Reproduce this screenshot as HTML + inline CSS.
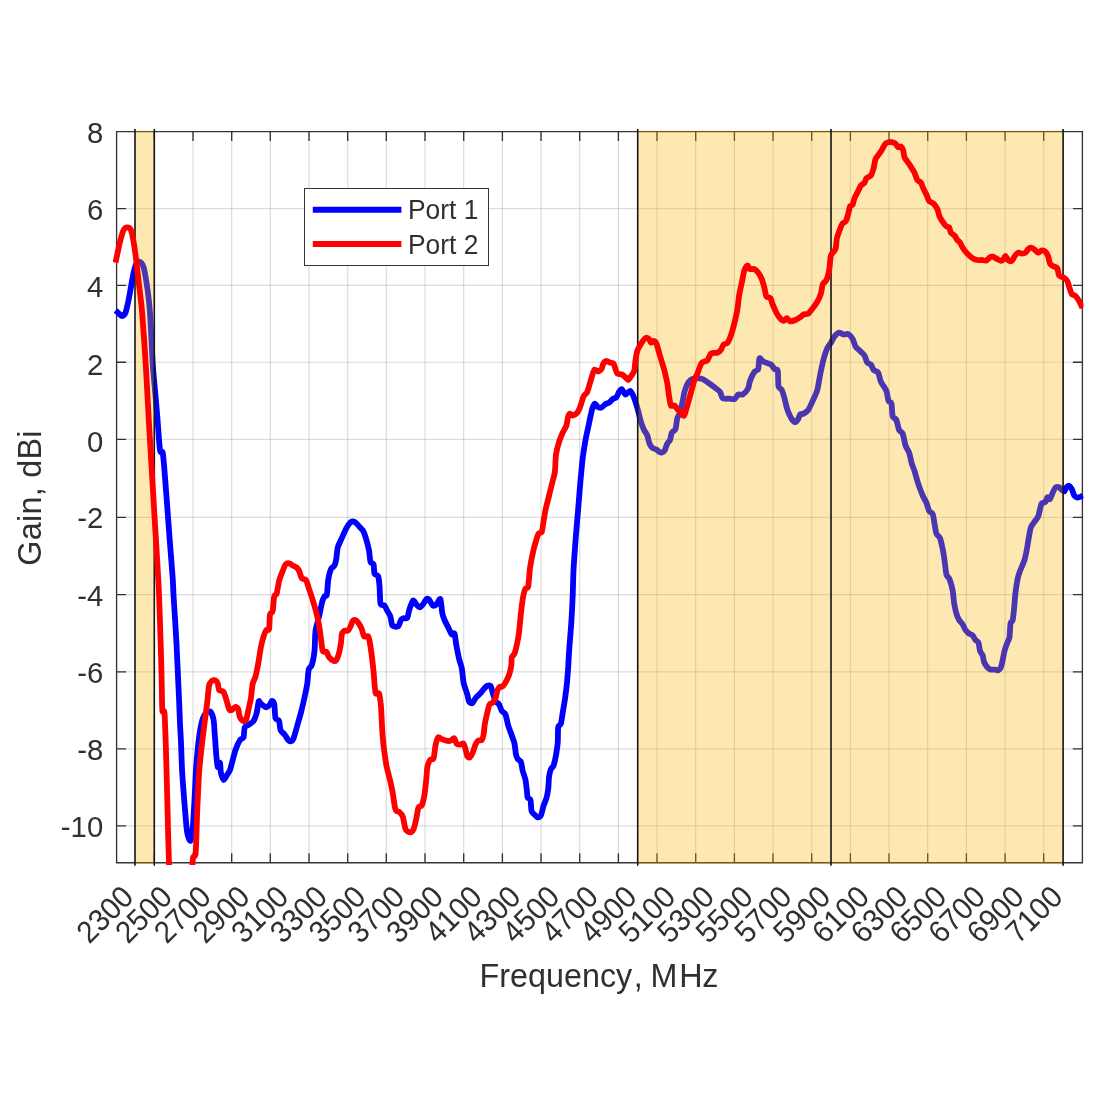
<!DOCTYPE html>
<html><head><meta charset="utf-8"><title>Gain</title>
<style>html,body{margin:0;padding:0;background:#fff;}svg{display:block;}text{font-family:"Liberation Sans",sans-serif;fill:#303030;}</style></head><body>
<svg width="1100" height="1100" viewBox="0 0 1100 1100">
<rect width="1100" height="1100" fill="#fff"/>
<path d="M154.3,131.6 V862.7 M193.0,131.6 V862.7 M231.7,131.6 V862.7 M270.3,131.6 V862.7 M309.0,131.6 V862.7 M347.7,131.6 V862.7 M386.3,131.6 V862.7 M425.0,131.6 V862.7 M463.7,131.6 V862.7 M502.4,131.6 V862.7 M541.0,131.6 V862.7 M579.7,131.6 V862.7 M618.4,131.6 V862.7 M657.0,131.6 V862.7 M695.7,131.6 V862.7 M734.4,131.6 V862.7 M773.0,131.6 V862.7 M811.7,131.6 V862.7 M850.4,131.6 V862.7 M889.0,131.6 V862.7 M927.7,131.6 V862.7 M966.4,131.6 V862.7 M1005.1,131.6 V862.7 M1043.7,131.6 V862.7" stroke="#262626" stroke-opacity="0.16" stroke-width="1.15" fill="none"/>
<path d="M116.6,208.6 H1082.4 M116.6,285.3 H1082.4 M116.6,362.2 H1082.4 M116.6,439.3 H1082.4 M116.6,517.4 H1082.4 M116.6,594.6 H1082.4 M116.6,671.8 H1082.4 M116.6,748.9 H1082.4 M116.6,825.8 H1082.4" stroke="#262626" stroke-opacity="0.16" stroke-width="1.15" fill="none"/>
<path d="M116.6,131.6 H1082.4 V862.7 H116.6 Z M154.3,862.7 v-9.5 M154.3,131.6 v9.5 M193.0,862.7 v-9.5 M193.0,131.6 v9.5 M231.7,862.7 v-9.5 M231.7,131.6 v9.5 M270.3,862.7 v-9.5 M270.3,131.6 v9.5 M309.0,862.7 v-9.5 M309.0,131.6 v9.5 M347.7,862.7 v-9.5 M347.7,131.6 v9.5 M386.3,862.7 v-9.5 M386.3,131.6 v9.5 M425.0,862.7 v-9.5 M425.0,131.6 v9.5 M463.7,862.7 v-9.5 M463.7,131.6 v9.5 M502.4,862.7 v-9.5 M502.4,131.6 v9.5 M541.0,862.7 v-9.5 M541.0,131.6 v9.5 M579.7,862.7 v-9.5 M579.7,131.6 v9.5 M618.4,862.7 v-9.5 M618.4,131.6 v9.5 M657.0,862.7 v-9.5 M657.0,131.6 v9.5 M695.7,862.7 v-9.5 M695.7,131.6 v9.5 M734.4,862.7 v-9.5 M734.4,131.6 v9.5 M773.0,862.7 v-9.5 M773.0,131.6 v9.5 M811.7,862.7 v-9.5 M811.7,131.6 v9.5 M850.4,862.7 v-9.5 M850.4,131.6 v9.5 M889.0,862.7 v-9.5 M889.0,131.6 v9.5 M927.7,862.7 v-9.5 M927.7,131.6 v9.5 M966.4,862.7 v-9.5 M966.4,131.6 v9.5 M1005.1,862.7 v-9.5 M1005.1,131.6 v9.5 M1043.7,862.7 v-9.5 M1043.7,131.6 v9.5 M116.6,208.6 h9.5 M1082.4,208.6 h-9.5 M116.6,285.3 h9.5 M1082.4,285.3 h-9.5 M116.6,362.2 h9.5 M1082.4,362.2 h-9.5 M116.6,439.3 h9.5 M1082.4,439.3 h-9.5 M116.6,517.4 h9.5 M1082.4,517.4 h-9.5 M116.6,594.6 h9.5 M1082.4,594.6 h-9.5 M116.6,671.8 h9.5 M1082.4,671.8 h-9.5 M116.6,748.9 h9.5 M1082.4,748.9 h-9.5 M116.6,825.8 h9.5 M1082.4,825.8 h-9.5" stroke="#343434" stroke-width="1.35" fill="none"/>
<defs><clipPath id="c"><rect x="112.6" y="128.6" width="970.8000000000001" height="736.3000000000001"/></clipPath></defs>
<path clip-path="url(#c)" d="M115.5,310.5C116.0,310.9 118.2,312.9 119.0,313.6C119.8,314.3 121.0,316.1 121.8,316.0C122.6,315.9 124.7,314.5 125.5,312.7C126.3,310.9 127.5,305.1 128.2,301.8C128.9,298.5 130.2,291.1 130.9,287.3C131.6,283.5 132.9,275.8 133.6,272.7C134.3,269.6 135.6,265.0 136.4,263.6C137.2,262.2 139.1,261.4 140.0,261.8C140.9,262.2 142.6,264.5 143.3,266.4C144.0,268.3 144.9,272.7 145.5,276.4C146.1,280.1 147.6,289.8 148.2,294.5C148.8,299.2 149.6,307.3 150.0,312.7C150.4,318.1 150.9,329.8 151.3,336.4C151.7,343.0 152.3,357.3 152.7,363.6C153.1,369.9 153.9,378.1 154.5,385.0C155.1,391.9 156.6,407.9 157.3,416.4C158.0,424.8 159.3,445.3 160.0,450.0C160.7,454.7 162.1,450.0 162.7,452.7C163.3,455.4 163.9,463.8 164.5,470.9C165.1,478.0 166.6,497.8 167.3,507.3C168.0,516.8 169.3,534.4 170.0,543.6C170.7,552.8 172.2,571.3 172.7,578.2C173.2,585.1 173.1,588.1 173.6,596.4C174.1,604.7 175.8,630.0 176.4,641.8C177.0,653.6 178.0,676.7 178.5,687.3C179.0,697.9 179.7,716.7 180.0,723.6C180.3,730.5 180.6,733.6 180.9,740.0C181.2,746.4 181.7,764.4 182.2,772.7C182.7,781.0 183.9,796.0 184.5,803.6C185.1,811.2 186.3,826.3 186.9,830.9C187.5,835.5 188.6,837.9 189.1,839.1C189.6,840.3 190.4,841.8 190.9,840.0C191.4,838.2 192.5,831.5 193.0,825.0C193.5,818.5 194.6,798.0 195.0,790.0C195.4,782.0 195.9,769.8 196.4,763.6C196.9,757.4 198.0,746.6 198.5,742.0C199.0,737.4 199.9,731.1 200.5,728.0C201.1,724.9 202.2,720.0 203.0,718.0C203.8,716.0 205.5,713.3 206.5,712.5C207.5,711.7 209.6,710.8 210.5,711.8C211.4,712.8 213.0,716.8 213.6,720.0C214.2,723.2 214.5,731.7 214.9,736.4C215.3,741.1 216.0,752.4 216.4,756.4C216.8,760.4 217.3,766.5 217.8,767.3C218.3,768.1 219.6,762.0 220.0,762.7C220.4,763.4 220.4,770.5 220.9,772.7C221.4,774.9 222.8,779.8 223.6,780.0C224.4,780.2 226.5,775.8 227.3,774.5C228.1,773.2 229.3,771.9 230.0,770.0C230.7,768.1 232.0,762.6 232.7,760.0C233.4,757.4 234.6,752.6 235.5,750.0C236.4,747.4 238.9,741.7 240.0,740.0C241.1,738.3 243.0,739.0 243.6,737.3C244.2,735.6 244.0,729.0 244.7,727.3C245.4,725.6 247.9,725.3 249.1,724.5C250.3,723.7 252.6,722.4 253.6,720.9C254.6,719.4 256.0,715.2 256.7,712.7C257.4,710.2 258.2,702.5 258.7,701.3C259.2,700.1 259.9,702.8 260.9,703.6C261.9,704.4 265.2,707.2 266.4,707.3C267.6,707.4 269.3,705.3 270.0,704.5C270.7,703.7 271.3,701.0 271.8,700.9C272.3,700.8 273.7,701.4 274.2,703.6C274.7,705.8 274.9,716.0 275.5,718.2C276.1,720.4 278.5,719.4 279.1,720.9C279.8,722.4 279.8,728.2 280.5,730.0C281.2,731.8 283.5,733.2 284.5,734.5C285.5,735.8 287.4,739.1 288.2,740.0C289.0,740.9 290.2,741.5 290.9,741.3C291.6,741.1 292.8,740.3 293.6,738.2C294.4,736.1 296.4,728.8 297.3,725.5C298.2,722.2 300.0,716.3 300.9,712.7C301.8,709.1 303.7,701.3 304.5,697.5C305.3,693.7 306.8,687.1 307.3,683.5C307.8,679.9 308.1,671.9 308.7,669.5C309.3,667.1 311.0,667.4 311.8,665.0C312.6,662.6 314.0,655.3 314.5,650.9C315.0,646.5 314.9,635.4 315.5,630.9C316.1,626.4 318.2,620.2 319.1,616.4C320.0,612.6 321.5,604.4 322.2,601.8C322.9,599.2 323.9,597.3 324.5,596.4C325.1,595.5 326.4,596.6 326.9,594.5C327.4,592.4 327.7,583.3 328.2,580.0C328.7,576.7 330.1,571.0 330.9,569.1C331.7,567.2 333.8,566.9 334.5,565.5C335.2,564.1 336.0,560.6 336.4,558.2C336.8,555.8 337.1,549.9 337.8,547.3C338.5,544.7 340.7,540.7 341.8,538.2C342.9,535.7 345.3,530.2 346.4,528.2C347.5,526.2 349.1,523.6 350.0,522.7C350.9,521.8 352.3,521.4 353.1,521.5C353.9,521.6 355.5,522.5 356.4,523.3C357.3,524.1 359.1,526.2 360.0,527.3C360.9,528.4 362.7,529.9 363.6,531.8C364.5,533.7 366.2,539.3 366.9,541.8C367.6,544.3 368.6,548.3 369.1,550.9C369.6,553.5 369.9,560.0 370.5,561.8C371.1,563.6 373.1,563.0 373.6,564.5C374.1,566.0 373.9,572.1 374.5,573.6C375.1,575.1 377.5,574.6 378.2,576.4C378.9,578.2 379.3,583.8 379.6,587.3C379.9,590.8 379.9,601.2 380.5,603.6C381.1,606.0 383.6,604.6 384.5,605.5C385.4,606.4 386.5,609.5 387.3,610.9C388.1,612.3 389.7,614.5 390.4,616.4C391.1,618.3 391.4,624.2 392.4,625.5C393.4,626.8 397.1,627.1 398.2,626.4C399.3,625.7 400.2,621.1 400.9,620.0C401.6,618.9 402.8,618.5 403.6,618.2C404.4,617.9 406.5,619.0 407.3,617.8C408.1,616.6 408.7,611.3 409.5,609.1C410.3,606.9 412.2,601.1 413.1,600.5C414.0,599.9 415.5,603.6 416.4,604.5C417.3,605.4 419.1,607.4 420.0,607.3C420.9,607.2 422.8,604.7 423.6,603.6C424.4,602.5 425.7,599.6 426.4,599.1C427.1,598.6 428.3,598.8 429.1,599.6C429.9,600.4 431.8,604.9 432.7,605.5C433.6,606.1 435.4,605.3 436.4,604.5C437.4,603.7 439.6,598.0 440.4,599.1C441.2,600.2 441.7,610.0 442.2,612.7C442.7,615.4 443.7,618.1 444.5,620.0C445.3,621.9 447.3,625.4 448.2,627.3C449.1,629.2 451.0,633.7 451.8,634.5C452.6,635.3 453.9,632.2 454.5,633.6C455.1,635.0 455.8,642.2 456.4,645.5C457.0,648.8 458.4,656.0 459.1,659.0C459.8,662.0 461.2,665.1 461.8,668.2C462.4,671.3 462.9,679.3 463.6,682.7C464.3,686.1 466.6,692.0 467.3,694.5C468.0,697.0 468.4,700.7 469.1,701.8C469.8,702.9 471.6,703.6 472.5,703.0C473.4,702.4 474.9,698.8 476.0,697.5C477.1,696.2 479.8,693.9 480.9,692.7C482.0,691.5 483.7,689.1 484.5,688.2C485.3,687.3 486.5,686.1 487.3,685.8C488.1,685.5 489.8,684.9 490.5,685.8C491.2,686.7 492.1,690.7 492.7,692.7C493.3,694.7 494.7,699.4 495.5,700.9C496.3,702.4 498.3,703.2 499.1,704.5C499.9,705.8 501.0,709.6 501.8,710.9C502.6,712.2 504.7,712.6 505.5,714.5C506.3,716.4 507.4,722.8 508.2,725.5C509.0,728.2 511.0,733.1 511.8,735.5C512.6,737.9 514.0,741.1 514.5,743.6C515.0,746.1 515.6,752.5 516.0,754.5C516.4,756.5 517.2,758.2 517.8,759.1C518.4,760.0 520.3,760.3 520.9,761.8C521.5,763.3 522.1,768.5 522.7,770.9C523.3,773.3 525.0,777.4 525.5,780.0C526.0,782.6 526.6,788.7 526.9,790.9C527.2,793.1 527.1,796.1 527.6,797.3C528.1,798.5 530.0,798.2 530.5,800.0C531.0,801.8 531.0,809.0 531.5,810.9C532.0,812.8 533.7,813.7 534.5,814.5C535.3,815.3 536.5,817.2 537.3,817.3C538.1,817.4 540.1,817.0 540.9,815.5C541.7,814.0 542.9,807.7 543.6,805.5C544.3,803.3 545.8,800.3 546.4,798.2C547.0,796.1 547.8,791.9 548.2,789.1C548.6,786.3 548.7,779.0 549.1,776.4C549.5,773.8 550.3,770.5 550.9,769.1C551.5,767.7 552.9,767.6 553.6,765.5C554.3,763.4 555.9,755.8 556.4,752.7C556.9,749.6 557.6,745.1 557.8,741.8C558.0,738.5 557.8,729.7 558.2,727.3C558.6,724.9 560.3,725.5 560.9,723.6C561.5,721.7 562.2,716.0 562.7,712.7C563.2,709.4 564.6,702.0 565.1,698.2C565.6,694.4 566.5,687.6 566.9,683.6C567.3,679.6 567.9,671.5 568.2,667.3C568.5,663.1 568.7,656.8 569.1,651.0C569.5,645.2 570.8,629.9 571.3,622.7C571.8,615.5 572.4,602.6 572.7,595.5C573.0,588.4 573.2,575.3 573.6,568.2C574.0,561.1 575.0,548.0 575.5,540.9C576.0,533.8 577.2,520.7 577.8,513.6C578.4,506.5 579.5,492.1 580.0,486.4C580.5,480.7 581.1,473.7 581.5,470.0C581.9,466.3 582.2,462.1 582.7,458.2C583.2,454.3 584.8,444.0 585.5,440.0C586.2,436.0 587.5,430.6 588.2,427.3C588.9,424.0 590.3,417.1 590.9,414.5C591.5,411.9 592.2,408.7 592.7,407.3C593.2,405.9 594.2,403.6 594.9,403.6C595.6,403.6 597.3,406.8 598.2,407.3C599.1,407.8 600.9,407.7 601.8,407.3C602.7,406.9 604.6,404.6 605.5,404.0C606.4,403.4 608.2,403.3 609.1,402.7C610.0,402.1 611.8,399.8 612.7,399.1C613.6,398.4 615.6,398.2 616.4,397.3C617.2,396.4 618.4,392.9 619.1,391.8C619.8,390.7 621.0,388.7 621.8,389.1C622.6,389.5 624.4,394.3 625.5,394.5C626.6,394.7 629.1,390.9 630.0,390.9C630.9,390.9 632.0,393.1 632.7,394.5C633.4,395.9 634.8,399.7 635.5,401.8C636.2,403.9 637.5,408.3 638.2,410.9C638.9,413.5 640.2,419.4 640.9,421.8C641.6,424.2 642.8,427.3 643.6,429.1C644.4,430.9 646.5,433.6 647.3,435.5C648.1,437.4 648.8,441.9 649.5,443.6C650.2,445.3 651.8,447.4 652.7,448.2C653.6,449.0 655.6,449.0 656.4,449.5C657.2,450.0 658.4,451.4 659.1,451.8C659.8,452.2 661.1,452.8 661.8,452.7C662.5,452.6 663.8,452.1 664.5,450.9C665.2,449.7 666.6,445.0 667.3,443.6C668.0,442.2 669.4,441.4 670.0,440.0C670.6,438.6 671.1,434.1 671.8,432.7C672.5,431.3 674.8,431.0 675.5,429.1C676.2,427.2 676.7,420.3 677.3,418.2C677.9,416.1 679.3,414.9 680.0,412.7C680.7,410.5 682.1,403.7 682.7,401.0C683.3,398.3 683.8,394.2 684.5,391.8C685.2,389.4 687.1,384.4 688.2,382.7C689.3,381.0 690.9,379.2 692.7,378.7C694.5,378.2 699.8,378.2 701.8,378.7C703.8,379.2 706.5,381.6 708.2,382.7C709.9,383.8 713.0,386.1 714.5,387.3C716.0,388.5 718.9,390.4 720.0,391.8C721.1,393.2 721.5,397.3 722.7,398.2C723.9,399.1 727.6,398.6 729.1,398.7C730.6,398.8 733.3,399.6 734.5,399.1C735.7,398.6 737.1,395.1 738.2,394.5C739.3,393.9 741.4,395.3 742.7,394.5C744.0,393.7 747.3,390.0 748.2,388.2C749.1,386.4 749.2,383.0 750.0,380.9C750.8,378.8 753.4,373.3 754.5,371.8C755.6,370.3 757.6,370.9 758.2,369.1C758.9,367.3 758.8,359.1 759.5,358.2C760.2,357.3 762.1,361.0 763.6,361.8C765.1,362.6 769.5,363.6 770.9,364.5C772.3,365.4 773.6,368.3 774.5,369.1C775.4,369.9 777.3,368.7 777.8,370.9C778.3,373.1 778.0,383.9 778.5,386.4C779.0,388.9 781.0,388.5 781.8,390.0C782.6,391.5 783.9,396.1 784.5,398.2C785.1,400.3 785.9,404.6 786.4,406.4C786.9,408.2 787.5,410.1 788.2,411.8C788.9,413.5 790.9,417.7 791.8,419.1C792.7,420.5 794.7,422.2 795.5,422.2C796.3,422.2 797.6,420.1 798.2,419.1C798.8,418.1 799.3,415.2 800.0,414.5C800.7,413.8 802.5,414.2 803.6,413.6C804.7,413.0 807.0,411.7 808.2,410.0C809.4,408.3 811.5,403.5 812.7,400.9C813.9,398.3 816.4,393.3 817.3,390.0C818.2,386.7 819.2,379.5 820.0,375.5C820.8,371.5 822.7,362.6 823.6,359.1C824.5,355.6 826.4,350.3 827.3,348.2C828.2,346.1 830.0,344.2 830.9,342.7C831.8,341.2 833.4,337.7 834.5,336.4C835.6,335.1 837.9,332.9 839.1,332.7C840.3,332.5 842.4,334.3 843.6,334.5C844.8,334.7 847.0,333.4 848.2,334.0C849.4,334.6 851.8,337.5 852.7,339.1C853.6,340.7 854.6,344.9 855.5,346.4C856.4,347.9 858.8,349.7 860.0,350.9C861.2,352.1 863.6,354.0 864.5,355.5C865.4,357.0 866.5,361.5 867.3,362.7C868.1,363.9 870.1,363.6 870.9,364.5C871.7,365.4 872.7,368.9 873.6,370.0C874.5,371.1 877.3,371.2 878.2,372.7C879.1,374.2 879.8,379.4 880.9,381.8C882.0,384.2 885.4,388.4 886.4,390.9C887.4,393.4 887.8,399.2 888.5,400.9C889.2,402.6 891.0,401.6 891.5,403.6C892.0,405.6 892.1,414.3 892.7,416.4C893.3,418.5 895.6,418.2 896.4,420.0C897.2,421.8 898.3,428.2 899.1,430.0C899.9,431.8 901.9,431.6 902.7,433.6C903.5,435.6 904.7,443.0 905.5,445.5C906.3,448.0 908.3,450.3 909.1,452.7C909.9,455.1 911.1,461.2 911.8,463.6C912.5,466.0 913.7,468.3 914.5,470.9C915.3,473.5 917.1,480.4 918.2,483.6C919.3,486.8 921.6,493.0 922.7,495.5C923.8,498.0 925.6,500.7 926.4,502.7C927.2,504.7 928.3,509.4 929.1,510.9C929.9,512.4 932.0,512.3 932.7,514.0C933.4,515.7 934.0,521.1 934.5,523.6C935.0,526.1 935.7,531.7 936.4,533.6C937.1,535.5 939.2,536.2 940.0,538.2C940.8,540.2 942.1,546.3 942.7,549.1C943.3,551.9 944.0,556.7 944.5,560.0C945.0,563.3 945.8,572.0 946.4,574.5C947.0,577.0 948.7,577.0 949.5,579.1C950.3,581.2 952.1,587.7 952.7,590.9C953.3,594.1 953.7,600.6 954.2,603.6C954.7,606.6 955.8,611.5 956.4,613.6C957.0,615.7 958.3,618.6 959.1,620.0C959.9,621.4 961.9,623.2 962.7,624.5C963.5,625.8 964.7,628.8 965.5,630.0C966.3,631.2 968.2,632.9 969.1,633.6C970.0,634.3 971.9,634.7 972.7,635.5C973.5,636.3 974.7,639.1 975.5,640.0C976.3,640.9 977.9,641.3 978.5,642.7C979.1,644.1 979.5,649.2 980.0,650.9C980.5,652.6 982.2,654.1 982.7,655.5C983.2,656.9 983.4,660.3 984.0,661.8C984.6,663.3 986.4,666.3 987.3,667.3C988.2,668.3 989.8,669.3 990.9,669.6C992.0,669.9 994.6,669.5 995.5,669.6C996.4,669.7 997.5,670.7 998.2,670.4C998.9,670.1 1000.3,668.7 1000.9,667.3C1001.5,665.9 1002.2,662.1 1002.7,660.0C1003.2,657.9 1003.9,653.1 1004.5,650.9C1005.1,648.7 1006.6,644.5 1007.3,642.7C1007.9,640.9 1009.1,639.8 1009.5,637.3C1009.9,634.8 1010.1,625.8 1010.5,623.6C1010.9,621.4 1012.2,622.1 1012.7,620.0C1013.2,617.9 1013.8,610.8 1014.2,607.3C1014.6,603.8 1015.0,596.5 1015.5,592.7C1016.0,588.9 1017.2,581.0 1017.8,578.2C1018.4,575.4 1019.1,573.3 1020.0,570.9C1020.9,568.5 1023.6,562.8 1024.5,560.0C1025.4,557.2 1026.4,551.9 1026.9,549.1C1027.4,546.3 1028.2,541.0 1028.7,538.2C1029.2,535.4 1030.1,529.4 1030.9,527.3C1031.7,525.2 1033.6,523.2 1034.5,521.8C1035.4,520.4 1037.4,518.3 1038.2,516.4C1039.0,514.5 1039.9,509.0 1040.4,507.3C1040.9,505.6 1041.1,504.0 1041.8,503.3C1042.5,502.6 1044.8,502.6 1045.5,501.8C1046.2,501.0 1046.7,497.7 1047.3,497.3C1047.9,496.9 1049.3,499.7 1050.0,499.1C1050.7,498.5 1052.0,494.2 1052.7,492.7C1053.4,491.2 1054.7,488.3 1055.5,487.6C1056.3,486.9 1058.3,487.0 1059.1,487.3C1059.9,487.6 1061.1,489.5 1061.8,490.0C1062.5,490.5 1063.9,491.7 1064.5,491.3C1065.1,490.9 1065.8,488.0 1066.4,487.3C1067.0,486.6 1068.4,485.6 1069.1,485.8C1069.8,486.0 1071.1,487.8 1071.8,489.1C1072.5,490.4 1073.5,494.4 1074.2,495.5C1074.9,496.6 1076.4,497.4 1077.3,497.6C1078.2,497.8 1080.2,497.0 1080.9,496.7C1081.6,496.4 1082.7,495.7 1083.0,495.5" stroke="#0000ff" stroke-width="5.8" fill="none" stroke-linejoin="round" stroke-linecap="butt"/>
<rect x="135.0" y="130.4" width="19.3" height="733.7" fill="#f8b200" fill-opacity="0.3"/>
<rect x="637.7" y="130.4" width="193.4" height="733.7" fill="#f8b200" fill-opacity="0.3"/>
<rect x="831.0" y="130.4" width="232.0" height="733.7" fill="#f8b200" fill-opacity="0.3"/>
<path d="M135.0,129.1 V865.7 M154.3,129.1 V865.7 M637.7,129.1 V865.7 M831.0,129.1 V865.7 M1063.1,129.1 V865.7" stroke="#141414" stroke-width="1.6" fill="none"/>
<path clip-path="url(#c)" d="M115.5,262.7C116.1,260.0 118.9,246.1 120.0,241.8C121.1,237.5 122.7,231.9 123.6,230.0C124.5,228.1 126.4,227.3 127.3,227.3C128.2,227.3 130.1,228.1 130.9,230.0C131.7,231.9 132.9,237.7 133.6,241.8C134.3,245.9 135.7,256.1 136.4,261.8C137.1,267.5 138.4,279.4 139.1,285.5C139.8,291.6 141.1,301.2 141.8,309.0C142.5,316.8 143.9,336.8 144.5,345.5C145.1,354.2 145.8,365.6 146.4,376.0C147.0,386.4 148.4,413.2 149.1,425.5C149.8,437.8 151.1,459.1 151.8,470.9C152.5,482.7 153.9,505.9 154.5,516.4C155.1,526.9 156.1,541.6 156.7,552.0C157.3,562.4 158.6,583.5 159.1,596.4C159.6,609.3 160.5,639.1 160.9,650.9C161.3,662.7 161.6,679.5 161.8,687.3C162.0,695.1 162.0,707.6 162.4,710.9C162.8,714.2 164.1,708.3 164.5,712.7C164.9,717.1 165.4,733.7 165.8,745.0C166.2,756.3 167.0,788.1 167.3,800.0C167.6,811.9 168.0,827.8 168.2,836.4C168.4,845.0 169.0,862.2 169.1,866.0 M192.4,866.0C192.5,864.9 192.7,858.8 193.1,857.3C193.5,855.8 195.1,857.2 195.5,854.5C195.9,851.8 196.2,842.3 196.4,836.4C196.6,830.5 196.9,817.4 197.3,809.1C197.7,800.8 198.5,781.0 199.1,772.7C199.7,764.4 201.1,751.9 201.8,745.5C202.5,739.1 203.8,729.3 204.5,723.6C205.2,717.9 206.7,706.8 207.3,701.8C207.9,696.8 208.5,688.2 209.1,685.5C209.7,682.8 211.0,681.6 211.8,680.9C212.6,680.2 214.7,680.0 215.5,680.4C216.3,680.8 217.3,682.4 217.8,683.6C218.3,684.8 218.3,688.9 219.1,690.0C219.9,691.1 222.7,690.5 223.6,691.8C224.5,693.1 225.7,697.8 226.4,700.0C227.1,702.2 228.4,707.8 229.1,709.1C229.8,710.4 231.0,710.3 231.8,710.0C232.6,709.7 234.7,707.0 235.5,706.9C236.3,706.8 237.7,707.9 238.2,709.1C238.7,710.3 239.0,714.9 239.6,716.4C240.2,717.9 241.9,720.4 242.7,720.9C243.5,721.4 245.3,721.3 246.0,720.0C246.7,718.7 247.6,713.7 248.2,710.9C248.8,708.1 250.3,701.7 250.9,698.2C251.5,694.7 252.1,686.4 252.7,683.6C253.3,680.8 254.8,679.0 255.5,676.4C256.2,673.8 257.5,667.4 258.2,663.6C258.9,659.8 260.2,650.8 260.9,647.3C261.6,643.8 262.9,638.6 263.6,636.4C264.3,634.2 265.7,630.9 266.4,630.0C267.1,629.1 268.6,631.1 269.1,629.1C269.6,627.1 269.5,616.9 270.0,614.5C270.5,612.1 272.2,613.3 272.7,610.9C273.2,608.5 273.7,598.6 274.2,596.4C274.7,594.2 276.1,595.6 276.7,593.6C277.3,591.6 278.3,583.9 279.1,580.9C279.9,577.9 281.9,573.0 282.7,570.9C283.5,568.8 284.7,565.5 285.5,564.5C286.3,563.5 288.2,563.2 289.1,563.3C290.0,563.4 291.8,565.0 292.7,565.5C293.6,566.0 295.6,566.6 296.4,567.3C297.2,568.0 298.4,569.5 299.1,570.9C299.8,572.3 300.9,577.0 301.8,578.2C302.7,579.4 305.1,578.6 306.0,580.0C306.9,581.4 308.2,586.5 309.1,589.1C310.0,591.7 311.8,596.9 312.7,600.0C313.6,603.1 315.6,609.4 316.4,612.7C317.2,616.0 318.5,622.2 319.1,625.5C319.7,628.8 320.4,634.9 320.9,638.2C321.4,641.5 322.0,649.1 322.7,650.9C323.4,652.7 325.6,651.0 326.4,651.8C327.2,652.6 328.2,656.1 329.1,657.3C330.0,658.5 332.7,660.5 333.6,660.9C334.5,661.3 335.7,661.1 336.4,660.0C337.1,658.9 338.5,654.8 339.1,652.7C339.7,650.6 340.5,646.0 340.9,643.6C341.3,641.2 341.4,636.2 341.8,634.5C342.2,632.8 343.2,631.4 344.0,630.9C344.8,630.4 347.3,631.2 348.2,630.5C349.1,629.8 350.3,626.7 350.9,625.5C351.5,624.3 352.1,621.6 352.7,620.9C353.3,620.2 354.8,619.8 355.5,620.0C356.2,620.2 357.4,621.5 358.2,622.7C359.0,623.9 361.0,627.3 361.8,629.1C362.6,630.9 363.2,635.5 364.0,636.4C364.8,637.3 367.4,635.5 368.2,636.4C369.0,637.3 369.5,641.1 370.0,643.6C370.5,646.1 371.3,652.3 371.8,656.0C372.3,659.7 373.1,667.2 373.6,672.0C374.1,676.8 374.8,689.9 375.5,692.7C376.2,695.5 378.4,691.9 379.1,693.6C379.8,695.3 380.5,701.8 380.9,705.5C381.3,709.2 381.6,717.8 381.8,721.8C382.0,725.8 382.4,732.9 382.7,736.4C383.0,739.9 383.5,745.3 384.0,749.1C384.5,752.9 385.6,761.5 386.4,765.5C387.2,769.5 389.2,776.5 390.0,780.0C390.8,783.5 392.1,789.2 392.7,792.7C393.3,796.2 394.4,804.9 394.9,807.3C395.4,809.7 395.9,810.3 396.4,810.9C396.9,811.5 398.3,811.1 399.1,811.8C399.9,812.5 401.9,814.2 402.7,816.4C403.5,818.6 404.8,827.1 405.5,829.1C406.2,831.1 407.5,831.4 408.2,831.8C408.9,832.2 410.2,832.6 410.9,832.2C411.6,831.8 412.9,830.9 413.6,829.1C414.3,827.3 415.8,821.0 416.4,818.2C417.0,815.4 417.8,809.0 418.5,807.3C419.2,805.6 421.0,807.2 421.8,805.5C422.6,803.8 423.9,798.0 424.5,794.5C425.1,791.0 426.0,781.7 426.4,778.2C426.8,774.7 426.8,769.7 427.3,767.3C427.8,764.9 429.2,761.2 430.0,760.0C430.8,758.8 432.9,760.1 433.6,758.2C434.3,756.3 434.9,748.2 435.5,745.5C436.1,742.8 437.4,738.1 438.2,737.3C439.0,736.5 440.6,738.6 441.8,739.1C443.0,739.6 446.1,740.7 447.3,740.9C448.5,741.1 450.0,740.9 450.9,740.5C451.8,740.1 453.4,737.7 454.2,738.2C455.0,738.7 455.9,743.2 456.7,744.0C457.5,744.8 459.1,744.6 460.0,744.5C460.9,744.4 462.9,743.0 463.6,743.6C464.3,744.2 465.0,747.4 465.5,749.1C466.0,750.8 466.7,755.3 467.3,756.4C467.9,757.5 469.3,757.8 470.0,757.3C470.7,756.8 472.0,754.4 472.7,752.7C473.4,751.0 474.8,746.1 475.5,744.5C476.2,742.9 477.4,741.1 478.2,740.5C479.0,739.9 481.1,740.8 481.8,740.0C482.5,739.2 483.2,736.6 483.6,734.5C484.0,732.4 484.4,726.4 484.9,723.6C485.4,720.8 486.7,715.2 487.3,712.7C487.9,710.2 488.8,705.8 489.5,704.5C490.2,703.2 491.9,703.5 492.7,702.7C493.5,701.9 494.9,699.7 495.5,698.2C496.1,696.7 496.8,692.4 497.3,690.9C497.8,689.4 498.9,687.5 499.6,686.9C500.3,686.3 501.8,687.2 502.7,686.4C503.6,685.6 505.5,682.6 506.4,680.9C507.3,679.2 508.9,675.6 509.5,673.6C510.1,671.6 511.0,667.6 511.3,665.5C511.6,663.4 511.4,658.8 511.8,657.3C512.2,655.8 513.9,655.1 514.5,653.6C515.1,652.1 516.1,648.3 516.7,645.5C517.3,642.7 518.6,635.9 519.1,631.8C519.6,627.7 520.4,617.9 520.9,613.6C521.4,609.3 522.2,602.3 522.7,599.1C523.2,595.9 524.4,590.8 525.1,589.1C525.8,587.4 527.6,589.1 528.2,586.4C528.8,583.7 529.4,572.5 530.0,568.2C530.6,563.9 532.0,556.9 532.7,553.6C533.4,550.3 534.7,545.3 535.5,542.7C536.3,540.1 537.7,535.0 538.5,533.6C539.3,532.2 541.1,533.5 541.8,531.8C542.5,530.1 543.1,523.7 543.6,520.9C544.1,518.1 544.8,513.3 545.5,510.0C546.2,506.7 548.2,499.3 549.1,495.5C550.0,491.7 551.9,484.0 552.7,480.9C553.5,477.8 554.5,475.2 554.9,471.8C555.3,468.4 555.5,458.4 556.0,454.5C556.5,450.6 558.2,444.6 559.1,441.8C560.0,439.0 561.8,434.8 562.7,432.7C563.6,430.6 565.7,427.6 566.4,425.5C567.1,423.4 567.7,417.9 568.2,416.4C568.7,414.9 569.4,413.7 570.0,413.6C570.6,413.5 571.8,415.6 572.7,415.5C573.6,415.4 576.4,413.8 577.3,412.7C578.2,411.6 579.2,409.4 580.0,407.3C580.8,405.2 582.7,398.4 583.6,396.4C584.5,394.4 586.4,393.9 587.3,391.8C588.2,389.7 590.0,382.8 590.9,380.0C591.8,377.2 593.3,371.1 594.2,370.0C595.1,368.9 597.3,371.6 598.2,371.5C599.1,371.4 600.8,370.1 601.5,369.1C602.2,368.1 602.7,364.7 603.3,363.6C603.9,362.5 605.5,361.0 606.4,360.9C607.3,360.8 609.1,362.3 610.0,362.7C610.9,363.1 612.9,362.8 613.6,363.6C614.3,364.4 615.0,367.8 615.5,369.1C616.0,370.4 616.5,372.9 617.3,373.6C618.1,374.3 620.7,374.0 621.8,374.5C622.9,375.0 624.7,376.6 625.5,377.3C626.3,378.0 627.5,380.1 628.2,380.0C628.9,379.9 630.1,377.6 630.9,376.4C631.7,375.2 633.6,373.0 634.2,370.9C634.8,368.8 635.1,362.6 635.5,360.0C635.9,357.4 636.7,352.8 637.3,350.9C637.9,349.0 639.2,346.9 640.0,345.5C640.8,344.1 642.8,341.0 643.6,340.0C644.4,339.0 645.7,337.7 646.4,337.6C647.1,337.5 648.5,338.4 649.1,339.1C649.7,339.8 650.3,342.5 650.9,342.7C651.5,342.9 652.9,340.8 653.6,340.9C654.3,341.0 655.7,342.1 656.4,343.6C657.1,345.1 658.4,350.3 659.1,352.7C659.8,355.1 661.1,359.4 661.8,361.8C662.5,364.2 663.8,368.1 664.5,370.9C665.2,373.7 666.7,380.3 667.3,383.6C667.9,386.9 668.6,393.6 669.1,396.4C669.6,399.2 670.2,404.3 670.9,405.5C671.6,406.7 673.7,405.0 674.5,405.5C675.3,406.0 676.5,408.2 677.3,409.1C678.1,410.0 680.0,411.9 680.9,412.7C681.8,413.5 683.4,416.4 684.2,415.5C685.0,414.6 686.4,408.5 687.3,405.5C688.2,402.5 690.0,396.0 690.9,392.7C691.8,389.4 693.7,382.5 694.5,380.0C695.3,377.5 696.4,375.8 697.3,373.6C698.2,371.4 700.5,364.4 701.8,362.7C703.1,361.0 706.1,361.7 707.3,360.5C708.5,359.3 709.6,354.6 710.9,353.6C712.2,352.6 716.0,353.2 717.3,352.7C718.6,352.2 720.1,351.1 720.9,350.0C721.7,348.9 722.7,345.4 723.6,344.5C724.5,343.6 726.7,343.9 727.6,342.7C728.5,341.5 730.0,338.1 730.9,335.5C731.8,332.9 733.7,326.0 734.5,322.7C735.3,319.4 736.7,313.5 737.3,310.0C737.9,306.5 738.5,299.0 739.1,295.5C739.7,292.0 741.1,286.0 741.8,282.7C742.5,279.4 743.7,272.2 744.5,270.0C745.3,267.8 746.9,265.6 747.6,265.5C748.3,265.4 749.1,268.6 750.0,269.1C750.9,269.6 753.4,268.6 754.5,269.1C755.6,269.6 757.3,271.4 758.2,272.7C759.1,274.0 761.0,277.1 761.8,279.1C762.6,281.1 763.9,286.0 764.5,288.2C765.1,290.4 765.6,295.1 766.4,296.4C767.2,297.7 769.7,297.1 770.5,298.2C771.3,299.3 771.9,302.6 772.7,304.5C773.5,306.4 775.5,310.9 776.4,312.7C777.3,314.5 779.1,317.1 780.0,318.2C780.9,319.3 782.7,320.9 783.6,320.9C784.5,320.9 786.1,318.1 786.9,318.2C787.7,318.3 788.9,321.1 790.0,321.3C791.1,321.5 794.2,320.5 795.5,320.0C796.8,319.5 798.9,318.0 800.0,317.3C801.1,316.6 802.5,315.0 803.6,314.5C804.7,314.0 807.0,314.4 808.2,313.6C809.4,312.8 811.5,309.7 812.7,308.2C813.9,306.7 816.2,303.7 817.3,301.8C818.4,299.9 820.2,295.8 820.9,293.6C821.6,291.4 822.0,286.3 822.7,284.5C823.4,282.7 825.5,281.9 826.4,280.0C827.3,278.1 828.7,272.7 829.3,269.5C829.9,266.3 830.1,258.2 830.9,255.5C831.7,252.8 834.7,251.3 835.5,249.1C836.3,246.9 836.3,240.8 836.9,238.2C837.5,235.6 839.3,231.0 840.0,229.1C840.7,227.2 841.6,224.7 842.4,223.6C843.2,222.5 845.2,222.3 846.0,220.9C846.8,219.5 848.0,214.6 848.5,212.7C849.0,210.8 849.5,207.5 850.0,206.4C850.5,205.3 852.1,205.6 852.7,204.5C853.3,203.4 853.8,200.0 854.5,198.2C855.2,196.4 857.4,192.6 858.2,190.9C859.0,189.2 860.1,186.6 860.9,185.5C861.7,184.4 863.8,183.6 864.5,182.7C865.2,181.8 865.6,179.1 866.4,178.2C867.2,177.3 870.0,176.8 870.9,175.5C871.8,174.2 873.0,170.3 873.6,168.2C874.2,166.1 874.8,160.9 875.5,159.1C876.2,157.3 877.9,155.7 878.7,154.5C879.5,153.3 880.9,151.4 881.8,150.0C882.7,148.6 884.6,144.6 885.5,143.6C886.4,142.6 887.7,142.4 888.5,142.2C889.3,142.0 890.9,142.0 891.8,142.2C892.7,142.4 894.7,142.9 895.5,143.6C896.3,144.3 897.5,146.9 898.2,147.3C898.9,147.7 900.3,146.0 900.9,146.4C901.5,146.8 902.6,148.6 903.1,150.0C903.6,151.4 903.8,155.6 904.5,157.3C905.2,159.0 907.3,161.3 908.2,162.7C909.1,164.1 911.0,166.9 911.8,168.2C912.6,169.5 913.8,171.2 914.5,172.7C915.2,174.2 916.5,178.7 917.3,180.0C918.1,181.3 920.1,181.5 920.9,182.7C921.7,183.9 922.9,187.6 923.6,189.1C924.3,190.6 925.7,193.0 926.4,194.5C927.1,196.0 928.2,199.7 929.1,200.9C930.0,202.1 932.5,202.5 933.6,203.6C934.7,204.7 936.5,207.4 937.3,209.1C938.1,210.8 938.8,214.7 939.5,216.4C940.2,218.1 941.8,220.5 942.7,221.8C943.6,223.1 945.6,225.7 946.4,226.4C947.2,227.1 948.5,226.5 949.1,227.3C949.7,228.1 950.2,231.6 950.9,232.7C951.6,233.8 953.7,234.6 954.5,235.5C955.3,236.4 956.6,239.1 957.3,240.0C958.0,240.9 959.2,241.5 960.0,242.7C960.8,243.9 962.5,247.6 963.6,249.1C964.7,250.6 967.0,253.3 968.2,254.5C969.4,255.7 971.5,257.5 972.7,258.2C973.9,258.9 976.1,259.8 977.3,260.0C978.5,260.2 980.6,259.9 981.8,260.0C983.0,260.1 985.3,260.9 986.4,260.5C987.5,260.1 989.2,257.8 990.0,257.3C990.8,256.8 991.8,256.5 992.7,256.7C993.6,256.9 996.2,258.6 997.3,259.1C998.4,259.6 1000.1,260.9 1000.9,260.9C1001.7,260.9 1003.0,259.7 1003.6,259.1C1004.2,258.5 1004.9,255.8 1005.5,256.0C1006.1,256.2 1007.6,259.9 1008.4,260.5C1009.2,261.1 1011.0,261.4 1011.8,260.9C1012.6,260.4 1013.7,257.5 1014.5,256.4C1015.3,255.3 1017.3,253.1 1018.2,252.7C1019.1,252.3 1020.9,253.6 1021.8,253.6C1022.7,253.6 1024.7,253.3 1025.5,252.7C1026.3,252.1 1027.5,249.8 1028.2,249.1C1028.9,248.4 1030.1,247.5 1030.9,247.6C1031.7,247.7 1033.6,248.8 1034.5,249.5C1035.4,250.2 1037.3,252.6 1038.2,252.7C1039.1,252.8 1040.9,250.6 1041.8,250.5C1042.7,250.4 1044.7,251.0 1045.5,251.8C1046.3,252.6 1047.6,254.9 1048.2,256.4C1048.8,257.9 1049.3,262.3 1050.0,263.6C1050.7,264.9 1052.7,265.8 1053.6,266.4C1054.5,267.0 1056.6,267.0 1057.3,268.2C1058.0,269.4 1058.3,274.3 1059.1,275.5C1059.9,276.7 1062.5,276.8 1063.6,277.5C1064.7,278.2 1066.5,279.4 1067.3,281.0C1068.1,282.6 1069.4,287.8 1070.0,289.5C1070.6,291.2 1071.1,293.2 1071.8,294.0C1072.5,294.8 1074.6,295.1 1075.5,296.0C1076.4,296.9 1078.2,299.4 1079.1,301.0C1080.0,302.6 1082.1,307.1 1082.5,308.0" stroke="#ff0000" stroke-width="5.8" fill="none" stroke-linejoin="round" stroke-linecap="butt"/>
<rect x="304.5" y="188.5" width="184" height="77" fill="#fff" stroke="#343434" stroke-width="1"/>
<path d="M312.8,209.7 H401.4" stroke="#0000ff" stroke-width="6"/>
<path d="M312.8,244.1 H401.4" stroke="#ff0000" stroke-width="6"/>
<g style="opacity:0.999">
<text transform="translate(408.0,218.8) scale(1,1.05)" font-size="26.4" text-anchor="start">Port 1</text>
<text transform="translate(408.0,254.2) scale(1,1.05)" font-size="26.4" text-anchor="start">Port 2</text>
<text transform="translate(103.2,142.5) scale(1,1.035)" font-size="29.3" text-anchor="end">8</text>
<text transform="translate(103.2,219.5) scale(1,1.035)" font-size="29.3" text-anchor="end">6</text>
<text transform="translate(103.2,296.7) scale(1,1.035)" font-size="29.3" text-anchor="end">4</text>
<text transform="translate(103.2,374.5) scale(1,1.035)" font-size="29.3" text-anchor="end">2</text>
<text transform="translate(103.2,451.7) scale(1,1.035)" font-size="29.3" text-anchor="end">0</text>
<text transform="translate(103.2,528.3) scale(1,1.035)" font-size="29.3" text-anchor="end">-2</text>
<text transform="translate(103.2,605.5) scale(1,1.035)" font-size="29.3" text-anchor="end">-4</text>
<text transform="translate(103.2,682.7) scale(1,1.035)" font-size="29.3" text-anchor="end">-6</text>
<text transform="translate(103.2,759.8) scale(1,1.035)" font-size="29.3" text-anchor="end">-8</text>
<text transform="translate(103.2,836.7) scale(1,1.035)" font-size="29.3" text-anchor="end">-10</text>
<text transform="translate(135.3,898.7) rotate(-45) scale(1,1.05)" font-size="29.3" text-anchor="end">2300</text>
<text transform="translate(174.1,898.7) rotate(-45) scale(1,1.05)" font-size="29.3" text-anchor="end">2500</text>
<text transform="translate(212.8,898.7) rotate(-45) scale(1,1.05)" font-size="29.3" text-anchor="end">2700</text>
<text transform="translate(251.5,898.7) rotate(-45) scale(1,1.05)" font-size="29.3" text-anchor="end">2900</text>
<text transform="translate(290.2,898.7) rotate(-45) scale(1,1.05)" font-size="29.3" text-anchor="end">3100</text>
<text transform="translate(328.9,898.7) rotate(-45) scale(1,1.05)" font-size="29.3" text-anchor="end">3300</text>
<text transform="translate(367.6,898.7) rotate(-45) scale(1,1.05)" font-size="29.3" text-anchor="end">3500</text>
<text transform="translate(406.3,898.7) rotate(-45) scale(1,1.05)" font-size="29.3" text-anchor="end">3700</text>
<text transform="translate(445.0,898.7) rotate(-45) scale(1,1.05)" font-size="29.3" text-anchor="end">3900</text>
<text transform="translate(483.8,898.7) rotate(-45) scale(1,1.05)" font-size="29.3" text-anchor="end">4100</text>
<text transform="translate(522.5,898.7) rotate(-45) scale(1,1.05)" font-size="29.3" text-anchor="end">4300</text>
<text transform="translate(561.2,898.7) rotate(-45) scale(1,1.05)" font-size="29.3" text-anchor="end">4500</text>
<text transform="translate(599.9,898.7) rotate(-45) scale(1,1.05)" font-size="29.3" text-anchor="end">4700</text>
<text transform="translate(638.6,898.7) rotate(-45) scale(1,1.05)" font-size="29.3" text-anchor="end">4900</text>
<text transform="translate(677.3,898.7) rotate(-45) scale(1,1.05)" font-size="29.3" text-anchor="end">5100</text>
<text transform="translate(716.0,898.7) rotate(-45) scale(1,1.05)" font-size="29.3" text-anchor="end">5300</text>
<text transform="translate(754.7,898.7) rotate(-45) scale(1,1.05)" font-size="29.3" text-anchor="end">5500</text>
<text transform="translate(793.4,898.7) rotate(-45) scale(1,1.05)" font-size="29.3" text-anchor="end">5700</text>
<text transform="translate(832.2,898.7) rotate(-45) scale(1,1.05)" font-size="29.3" text-anchor="end">5900</text>
<text transform="translate(870.9,898.7) rotate(-45) scale(1,1.05)" font-size="29.3" text-anchor="end">6100</text>
<text transform="translate(909.6,898.7) rotate(-45) scale(1,1.05)" font-size="29.3" text-anchor="end">6300</text>
<text transform="translate(948.3,898.7) rotate(-45) scale(1,1.05)" font-size="29.3" text-anchor="end">6500</text>
<text transform="translate(987.0,898.7) rotate(-45) scale(1,1.05)" font-size="29.3" text-anchor="end">6700</text>
<text transform="translate(1025.7,898.7) rotate(-45) scale(1,1.05)" font-size="29.3" text-anchor="end">6900</text>
<text transform="translate(1064.4,898.7) rotate(-45) scale(1,1.05)" font-size="29.3" text-anchor="end">7100</text>
<text transform="translate(479.6,987.0) scale(1,1.05)" font-size="32.3" text-anchor="start" dx="0 0 0 0 0 0 0 0 0 4 0 -1.3 1.9 -0.3">Frequency, MHz</text>
<text transform="translate(41.5,498.0) rotate(-90) scale(1,1.05)" font-size="32.3" text-anchor="middle" letter-spacing="0.3">Gain, dBi</text>
</g>
</svg></body></html>
